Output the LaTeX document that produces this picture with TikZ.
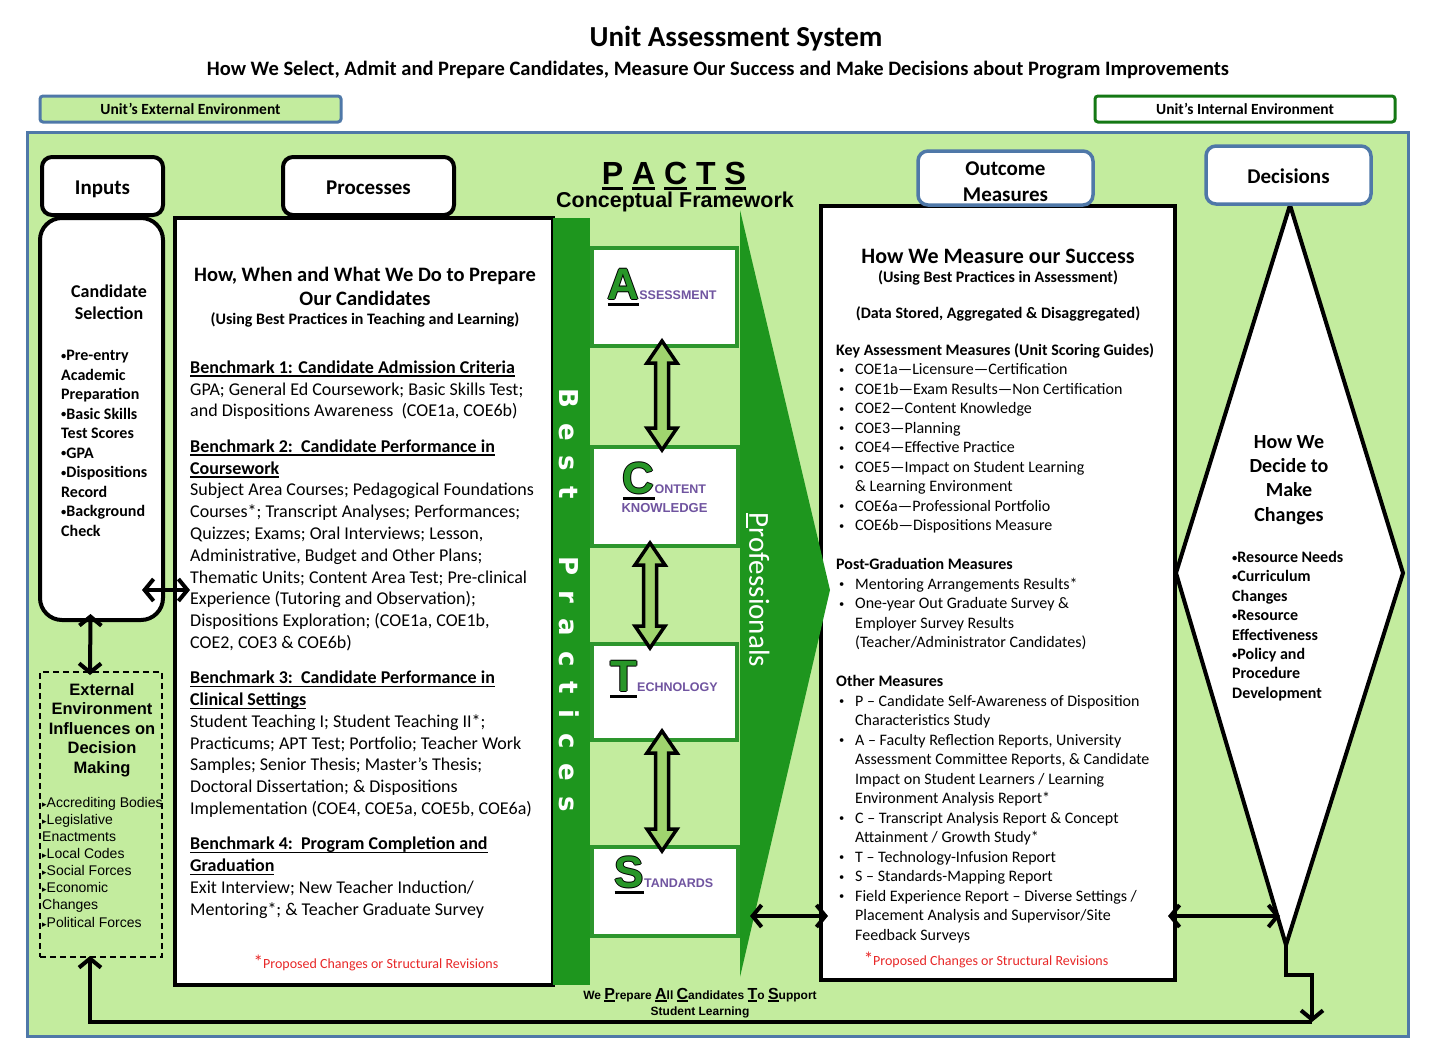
\documentclass[tikz,border=0pt]{standalone}
\usepackage{fontspec}
\setmainfont{Carlito}
\newfontfamily\arialf{Liberation Sans}
\newfontfamily\dvf{DejaVu Sans}
\usetikzlibrary{arrows.meta,calc}

\definecolor{bggreen}{RGB}{195,236,158}
\definecolor{darkgreen}{RGB}{30,150,30}
\definecolor{boxgreen}{RGB}{45,150,45}
\definecolor{bluegray}{RGB}{79,120,168}
\definecolor{intgreen}{RGB}{20,120,20}
\definecolor{arrowgreen}{RGB}{160,212,110}
\definecolor{ppurple}{RGB}{112,84,160}
\definecolor{pgreen}{RGB}{40,150,40}
\definecolor{redtext}{RGB}{232,40,40}

\newcommand\fsz[2]{\fontsize{#1}{#2}\selectfont}
\newcommand\ulbox[3]{\setbox0=\hbox{#3}\rlap{\rule[#1]{\wd0}{#2}}\box0\relax}
\newcommand\bhd[1]{\textbf{\ulbox{-3.6pt}{1.5pt}{#1}}}
\newcommand\sbul{\raisebox{1.2pt}{\fsz{10.5}{10.5}•}}
\newcommand\obul{\makebox[19pt][l]{\hspace{3pt}\sbul}}
\newcommand\oind{\makebox[19pt]{}}
\newcommand\pbig[1]{{\arialf\bfseries\fsz{44}{44}\color{ppurple}\ulbox{-6pt}{3pt}{\rlap{\hspace{-1pt}#1}\rlap{\hspace{1pt}#1}\rlap{\raisebox{1pt}{#1}}\rlap{\raisebox{-1pt}{#1}}\color{pgreen}#1}}}
\newcommand\psm[1]{{\arialf\bfseries\fsz{12.5}{12.5}\color{ppurple}#1}}
\newcommand\emk{{\dvf\fsz{9}{9}▸}}
\newcommand\slc[1]{\ulbox{-2.5pt}{1.4pt}{\fsz{16}{16}#1}}
\newcommand\bps{\hspace{15pt}}
\newcommand\fatvert[2]{\draw[fatarr] (#1) -- ($(#1)+(15,22)$) -- ($(#1)+(6.5,22)$) -- ($(#2)+(6.5,-22)$) -- ($(#2)+(15,-22)$) -- (#2) -- ($(#2)+(-15,-22)$) -- ($(#2)+(-6.5,-22)$) -- ($(#1)+(-6.5,22)$) -- ($(#1)+(-15,22)$) -- cycle;}

\begin{document}
\begin{tikzpicture}[x=1pt,y=-1pt,
  >={Straight Barb[length=9pt,width=22pt]},
  conn/.style={line width=4pt,black},
  thickbox/.style={draw=black,line width=4pt,fill=white,inner sep=0},
  lblbox/.style={draw=black,line width=4pt,fill=white,rounded corners=10pt,inner sep=0,font=\fsz{21}{24}\bfseries,text height=17pt,text depth=0pt},
  bluebox/.style={draw=bluegray,line width=3.5pt,fill=white,rounded corners=10pt,inner sep=0,font=\fsz{21}{26}\bfseries,align=center},
  pbox/.style={draw=boxgreen,line width=4pt,fill=white,inner sep=0},
  fatarr/.style={draw=black,line width=3.5pt,fill=arrowgreen,line join=miter},
  txt/.style={inner sep=0},
]
\fill[white] (0,0) rectangle (1430,1061);
\useasboundingbox (0,0) rectangle (1430,1061);

% titles
\node[txt,font=\fsz{29}{32}\bfseries] (title) at (736,39) {Unit Assessment System};
\node[txt,font=\fsz{20.5}{24}\bfseries] (subtitle) at (718,70) {How We Select, Admit and Prepare Candidates, Measure Our Success and Make Decisions about Program Improvements};

\node[draw=bluegray,line width=3pt,fill=bggreen,rounded corners=3pt,minimum width=301,minimum height=26,inner sep=0,font=\fsz{15.5}{18}\bfseries] (extenv) at (190.5,109) {Unit’s External Environment};
\node[draw=intgreen,line width=3pt,fill=white,rounded corners=3pt,minimum width=300,minimum height=26,inner sep=0,font=\fsz{15.5}{18}\bfseries] (intenv) at (1245,109) {Unit’s Internal Environment};

% frame
\node[draw=bluegray,line width=3pt,fill=bggreen,minimum width=1381,minimum height=904,inner sep=0] (frame) at (717.5,584) {};

% inputs
\node[lblbox,minimum width=121,minimum height=58] (inputs) at (102.5,186) {Inputs};
\node[thickbox,rounded corners=22pt,minimum width=123,minimum height=402] (cand) at (101.5,419) {};
\node[draw=black,line width=2pt,dash pattern=on 6pt off 4pt,minimum width=122,minimum height=285,inner sep=0] (ext) at (101,814.5) {};

% processes
\node[lblbox,minimum width=171,minimum height=58] (procl) at (368.5,186) {Processes};
\node[thickbox,minimum width=378,minimum height=767] (proc) at (364,601.5) {};

% outcome
\node[thickbox,minimum width=354,minimum height=774] (outc) at (998,593) {};
\node[bluebox,minimum width=175,minimum height=54] (outl) at (1005.5,178) {};
\node[txt,align=center,font=\fsz{21}{26}\bfseries] (outlt) at (1005.5,181.5) {Outcome\\Measures};

% decisions diamond
\coordinate (dtop) at (1290,205);
\coordinate (dright) at (1403,573);
\coordinate (dbot) at (1286,945);
\coordinate (dleft) at (1176,573);
\draw[line width=4pt,fill=white] (dtop) -- (dright) -- (dbot) -- (dleft) -- cycle;
\node[bluebox,minimum width=165,minimum height=58,text height=16pt,text depth=0pt] (decl) at (1288.5,175) {Decisions};

% best practices bar and professionals arrow
\node[fill=darkgreen,minimum width=37,minimum height=767,inner sep=0] (bpbar) at (571.5,601.5) {};
\coordinate (profTop) at (740,210);
\coordinate (profTip) at (830,590);
\coordinate (profBot) at (740,977);
\fill[darkgreen] (profTop) -- (profTip) -- (profBot) -- cycle;

% PACTS boxes
\node[pbox,minimum width=145,minimum height=98] (pA) at (664.5,297) {};
\node[pbox,minimum width=146,minimum height=99] (pC) at (665,496.5) {};
\node[pbox,minimum width=145,minimum height=96] (pT) at (664.5,692) {};
\node[pbox,minimum width=146,minimum height=89] (pS) at (665,891.5) {};

\coordinate (acT) at ($(pA.south)+(-2.5,-7)$);
\coordinate (acB) at ($(pC.north)+(-3,5)$);
\coordinate (ctT) at ($(pC.south)+(-15,-5)$);
\coordinate (ctB) at ($(pT.north)+(-14.5,6)$);
\coordinate (tsT) at ($(pT.south)+(-2.5,-11)$);
\coordinate (tsB) at ($(pS.north)+(-3,6)$);
\fatvert{acT}{acB}
\fatvert{ctT}{ctB}
\fatvert{tsT}{tsB}

% connectors
\draw[conn,<->] ($(cand.south east)+(-23,-32)$) coordinate (cpL) -- ([xshift=17pt]proc.west |- cpL);
\draw[conn,<->] ($(cand.south)+(-11,-8)$) -- ($(ext.north)+(-11,4)$);
\coordinate (fbc) at (1312,1022);
\draw[conn,->] (dbot) |- ($(fbc)+(0,-47)$) -- (fbc);
\draw[conn,->] (fbc) -| ($(ext.south)+(-11,-2)$);
\draw[conn,<->] ($(outc.south west)+(-69,-66)$) coordinate (poL) -- ([xshift=9pt]outc.west |- poL);
\draw[conn,<->] ([xshift=-9pt]outc.east |- poL) -- ([xshift=-6pt]dbot |- poL);

% PACTS header
\node[txt,font=\arialf\bfseries\fsz{32}{36}] (pacts) at (674,176) {\ulbox{-5pt}{2.5pt}{P} \ulbox{-5pt}{2.5pt}{A} \ulbox{-5pt}{2.5pt}{C} \ulbox{-5pt}{2.5pt}{T} \ulbox{-5pt}{2.5pt}{S}};
\node[txt,font=\arialf\bfseries\fsz{21.5}{24}] (cfw) at (675,201.5) {Conceptual Framework};

% PACTS box texts
\node[txt] (tA) at (662,287) {\pbig{A}\psm{SSESSMENT}};
\node[txt] (tC) at (664.5,481) {\pbig{C}\psm{ONTENT}};
\node[txt,font=\arialf\bfseries\fsz{13}{13},text=ppurple] (tC2) at (664.5,508) {KNOWLEDGE};
\node[txt] (tT) at (664,679) {\pbig{T}\psm{ECHNOLOGY}};
\node[txt] (tS) at (664,875) {\pbig{S}\psm{TANDARDS}};

% vertical texts
\node[txt,rotate=-90,text=white,font=\dvf\bfseries\fsz{26}{26}] (bptext) at (569,600) {B\bps e\bps s\bps t\hspace{58pt}P\bps r\bps a\bps c\bps t\bps i\bps c\bps e\bps s};
\node[txt,rotate=-90,text=white,font=\fsz{29}{30}] (proftext) at (758,590) {\ulbox{-3pt}{2pt}{P}rofessionals};

% inputs texts
\node[txt,align=center,font=\fsz{18}{22}\bfseries] (candh) at (109,302) {Candidate\\Selection};
\node[txt,anchor=north west,align=left,font=\fsz{16}{19.5}\bfseries] (candl) at (61,350) {\sbul Pre-entry\\Academic\\Preparation\\\sbul Basic Skills\\Test Scores\\\sbul GPA\\\sbul Dispositions\\Record\\\sbul Background\\Check};

\node[txt,align=center,font=\arialf\bfseries\fsz{16.5}{19.5}] (exth) at (102,730) {External\\Environment\\Influences on\\Decision\\Making};
\node[txt,anchor=north west,align=left,font=\arialf\fsz{14}{17.1}] (extl) at (42,797) {\emk Accrediting Bodies\\\emk Legislative\\Enactments\\\emk Local Codes\\\emk Social Forces\\\emk Economic\\Changes\\\emk Political Forces};

% processes texts
\node[txt,align=center,font=\fsz{20.5}{24}\bfseries] (proch) at (365,286) {How, When and What We Do to Prepare\\Our Candidates};
\node[txt,font=\fsz{16}{18}\bfseries] (procs) at (365,320) {(Using Best Practices in Teaching and Learning)};
\node[txt,anchor=north west,align=left,font=\fsz{18}{21.8}] (procbody) at (190,360.5) {%
\bhd{Benchmark 1: Candidate Admission Criteria}\\
GPA; General Ed Coursework; Basic Skills Test;\\
and Dispositions Awareness\ \ (COE1a, COE6b)\\[13.5pt]
\bhd{Benchmark 2:\ \ Candidate Performance in}\\
\bhd{Coursework}\\
Subject Area Courses; Pedagogical Foundations\\
Courses*; Transcript Analyses; Performances;\\
Quizzes; Exams; Oral Interviews; Lesson,\\
Administrative, Budget and Other Plans;\\
Thematic Units; Content Area Test; Pre-clinical\\
Experience (Tutoring and Observation);\\
Dispositions Exploration; (COE1a, COE1b,\\
COE2, COE3 \& COE6b)\\[13.5pt]
\bhd{Benchmark 3:\ \ Candidate Performance in}\\
\bhd{Clinical Settings}\\
Student Teaching I; Student Teaching II*;\\
Practicums; APT Test; Portfolio; Teacher Work\\
Samples; Senior Thesis; Master’s Thesis;\\
Doctoral Dissertation; \& Dispositions\\
Implementation (COE4, COE5a, COE5b, COE6a)\\[13.5pt]
\bhd{Benchmark 4:\ \ Program Completion and}\\
\bhd{Graduation}\\
Exit Interview; New Teacher Induction/\\
Mentoring*; \& Teacher Graduate Survey};
\node[txt,text=redtext,font=\fsz{14}{16}] (procfn) at (376,963) {{\fsz{19}{19}*}Proposed Changes or Structural Revisions};

% outcome texts
\node[txt,font=\fsz{22}{26}\bfseries] (oh1) at (998,256) {How We Measure our Success};
\node[txt,font=\fsz{16}{19}\bfseries] (oh2) at (998,278) {(Using Best Practices in Assessment)};
\node[txt,font=\fsz{16}{19}\bfseries] (oh3) at (998,314) {(Data Stored, Aggregated \& Disaggregated)};
\node[txt,anchor=north west,align=left,font=\fsz{16}{19.5}] (outbody) at (836,343) {%
\textbf{Key Assessment Measures (Unit Scoring Guides)}\\
\obul COE1a—Licensure—Certification\\
\obul COE1b—Exam Results—Non Certification\\
\obul COE2—Content Knowledge\\
\obul COE3—Planning\\
\obul COE4—Effective Practice\\
\obul COE5—Impact on Student Learning\\
\oind \& Learning Environment\\
\obul COE6a—Professional Portfolio\\
\obul COE6b—Dispositions Measure\\[19.5pt]
\textbf{Post-Graduation Measures}\\
\obul Mentoring Arrangements Results*\\
\obul One-year Out Graduate Survey \&\\
\oind Employer Survey Results\\
\oind (Teacher/Administrator Candidates)\\[19.5pt]
\textbf{Other Measures}\\
\obul P – Candidate Self-Awareness of Disposition\\
\oind Characteristics Study\\
\obul A – Faculty Reflection Reports, University\\
\oind Assessment Committee Reports, \& Candidate\\
\oind Impact on Student Learners / Learning\\
\oind Environment Analysis Report*\\
\obul C – Transcript Analysis Report \& Concept\\
\oind Attainment / Growth Study*\\
\obul T – Technology-Infusion Report\\
\obul S – Standards-Mapping Report\\
\obul Field Experience Report – Diverse Settings /\\
\oind Placement Analysis and Supervisor/Site\\
\oind Feedback Surveys};
\node[txt,text=redtext,font=\fsz{14}{16}] (outfn) at (986,960) {{\fsz{19}{19}*}Proposed Changes or Structural Revisions};

% decisions texts
\node[txt,align=center,font=\fsz{20}{24.3}\bfseries] (dech) at (1289,480) {How We\\Decide to\\Make\\Changes};
\node[txt,anchor=north west,align=left,font=\fsz{16}{19.4}\bfseries] (decl2) at (1232,551) {\sbul Resource Needs\\\sbul Curriculum\\Changes\\\sbul Resource\\Effectiveness\\\sbul Policy and\\Procedure\\Development};

% slogan
\node[txt,align=center,font=\arialf\bfseries\fsz{12}{16}] (slogan) at (700,1003) {We \slc{P}repare \slc{A}ll \slc{C}andidates \slc{T}o \slc{S}upport\\Student Learning};
\end{tikzpicture}
\end{document}
